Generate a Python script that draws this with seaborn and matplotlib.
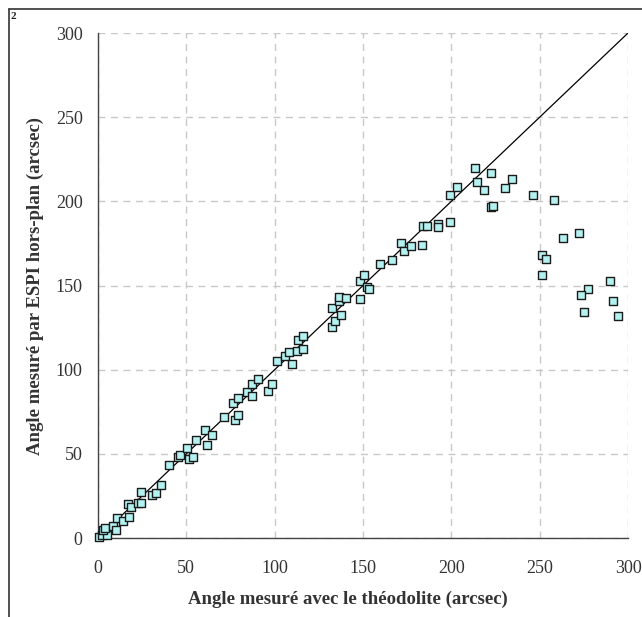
import pandas as pd
import seaborn as sns
import matplotlib.pyplot as plt
from matplotlib.lines import Line2D

# angles (arcsec)
theodolite = [0.6, 2.1, 5.3, 2.7, 3.8, 8.7, 10.4, 10.6, 14.3, 17.5, 16.8, 18.7,
              22.5, 24.5, 24.5, 30.6, 32.6, 35.5, 40.4, 45.3, 46.4, 50.2, 51.5,
              53.8, 55.5, 60.4, 61.5, 64.5, 71.5, 76.6, 77.5, 79.4, 79.4, 84.5,
              87.3, 87.3, 90.4, 96.4, 98.3, 101.3, 106.0, 108.3, 110.0, 112.5,
              116.2, 113.2, 116.2, 132.4, 134.3, 137.5, 132.4, 136.2, 136.6,
              140.4, 148.3, 148.3, 150.7, 152.4, 153.2, 159.6, 166.4, 171.3,
              173.2, 177.3, 183.4, 184.1, 186.4, 192.4, 192.4, 199.2, 199.2,
              203.3, 213.4, 214.3, 218.3, 222.4, 222.4, 223.4, 230.3, 234.3,
              246.2, 258.1, 263.2, 272.2, 251.3, 253.4, 251.3, 289.9, 277.1,
              273.3, 291.3, 275.2, 294.1]
espi = [0.5, 1.5, 1.8, 4.5, 6.0, 7.3, 4.8, 12.0, 10.0, 12.4, 20.0, 18.5,
        21.0, 20.6, 27.2, 25.5, 26.6, 31.3, 43.2, 47.9, 49.3, 53.7, 47.1,
        48.1, 58.2, 64.3, 55.1, 61.0, 71.7, 80.2, 70.1, 83.0, 73.1, 86.8,
        91.5, 84.2, 94.3, 87.5, 91.5, 105.2, 108.0, 110.5, 103.5, 111.0,
        112.5, 117.6, 119.8, 125.4, 128.9, 132.5, 136.5, 140.8, 143.0,
        142.8, 141.8, 152.5, 156.4, 149.3, 147.9, 162.8, 165.0, 175.1,
        170.3, 173.7, 173.9, 185.4, 185.4, 186.6, 185.0, 187.8, 203.8,
        208.7, 219.7, 211.5, 207.0, 217.1, 196.9, 197.1, 207.8, 213.1,
        203.6, 200.8, 178.1, 181.4, 168.2, 165.8, 156.4, 152.5, 147.8,
        144.4, 140.6, 134.1, 131.9]
ref_line = [0, 300]
ticks = [0, 50, 100, 150, 200, 250, 300]

df = pd.DataFrame({"theo": theodolite, "espi": espi})

sns.set_style("white")
plt.rcParams['font.family'] = ['Liberation Serif', 'DejaVu Serif']

fig = plt.figure(figsize=(6.42, 6.17), dpi=100)
ax = fig.add_axes([0.1526, 0.128, 0.8256, 0.8185])

sns.lineplot(x=ref_line, y=ref_line, color='black', linewidth=0.9, ax=ax, zorder=2)
sns.scatterplot(data=df, x="theo", y="espi", marker='s', s=28, color='#b4f2f2',
                edgecolor='#1a1a1a', linewidth=1.0, ax=ax, zorder=3, clip_on=False)

ax.set_xlim(0, 300)
ax.set_ylim(0, 300)
ax.set_xticks(ticks)
ax.set_yticks(ticks)
ax.grid(True, linestyle=(0, (5, 4)), color='#c8c8c8', linewidth=1.0)
ax.set_axisbelow(True)
for side in ['top', 'right']:
    ax.spines[side].set_visible(False)
for side in ['left', 'bottom']:
    ax.spines[side].set_color('#444444')
    ax.spines[side].set_linewidth(1.0)
ax.tick_params(axis='both', direction='out', length=6, width=1, color='#444444',
               labelsize=13, labelcolor='#333333', pad=5)
ax.tick_params(axis='x', pad=10)

ax.set_xlabel("Angle mesuré avec le théodolite (arcsec)", fontsize=13.5,
              fontweight='bold', color='#333333')
ax.set_ylabel("Angle mesuré par ESPI hors-plan (arcsec)", fontsize=13.5,
              fontweight='bold', color='#333333')
ax.xaxis.set_label_coords(0.472, -0.105)
ax.yaxis.set_label_coords(-0.102, 0.5)

# outer frame and panel number
fig.add_artist(Line2D([9/642, 1], [1 - 9/617, 1 - 9/617], color='#333333', linewidth=1.2))
fig.add_artist(Line2D([9/642, 9/642], [0, 1 - 9/617], color='#333333', linewidth=1.2))
fig.text(11/642, 1 - 12/617, "2", fontsize=8, fontweight='bold', va='top', ha='left')

plt.savefig("out.png", dpi=100)
